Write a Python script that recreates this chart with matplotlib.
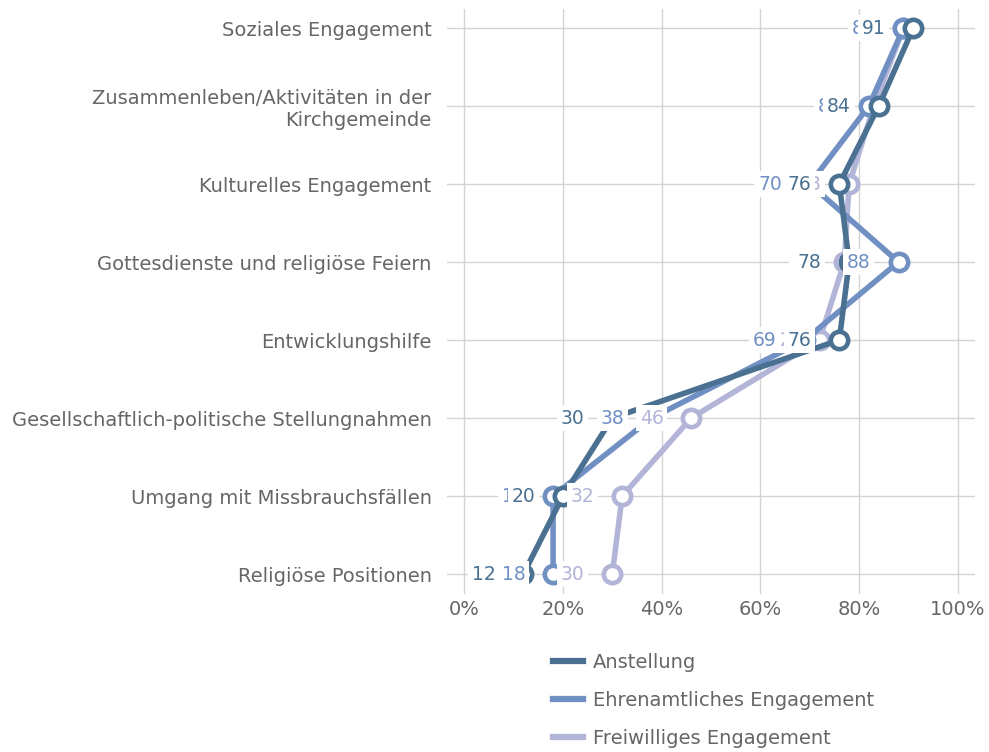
import numpy as np
import matplotlib.pyplot as plt

plt.rcParams['font.family'] = ['DejaVu Sans']

categories = ["Soziales Engagement",
              "Zusammenleben/Aktivitäten in der\nKirchgemeinde",
              "Kulturelles Engagement",
              "Gottesdienste und religiöse Feiern",
              "Entwicklungshilfe",
              "Gesellschaftlich-politische Stellungnahmen",
              "Umgang mit Missbrauchsfällen",
              "Religiöse Positionen"]

anstellung = [91, 84, 76, 78, 76, 30, 20, 12]
ehrenamt = [89, 82, 70, 88, 69, 38, 18, 18]
freiwillig = [89, 83, 78, 77, 72, 46, 32, 30]

series = [("Anstellung", anstellung, "#4a7191"),
          ("Ehrenamtliches Engagement", ehrenamt, "#7090c4"),
          ("Freiwilliges Engagement", freiwillig, "#b2b4d8")]

text_col = "#666666"
fs = 14

fig = plt.figure(figsize=(9.89, 7.52), dpi=100)
ax = fig.add_axes([447 / 989, 1 - 593.5 / 752, 528 / 989, 585 / 752])

y = np.arange(len(categories))

# lines, last series at the bottom
for k in reversed(range(len(series))):
    name, vals, col = series[k]
    ax.plot(vals, y, color=col, lw=4, marker='o', ms=12.5, mfc='white',
            mec=col, mew=3.3, zorder=3 + (3 - k), label=name)

# value labels on top of the lines
for k in reversed(range(len(series))):
    name, vals, col = series[k]
    for v, yy in zip(vals, y):
        ax.annotate(str(v), (v, yy), xytext=(-20, 0), textcoords='offset points',
                    ha='right', va='center', fontsize=13.5, color=col,
                    bbox=dict(boxstyle='square,pad=0.2', fc='white', ec='none'),
                    zorder=10 + (3 - k))

ax.set_xlim(-3.5, 103.5)
ax.set_ylim(len(categories) - 1 + 0.25, -0.25)
ax.set_xticks([0, 20, 40, 60, 80, 100])
ax.set_xticklabels([f"{t}%" for t in [0, 20, 40, 60, 80, 100]])
ax.set_yticks(y)
ax.set_yticklabels(categories, ha='right', multialignment='right')
ax.tick_params(length=0, labelsize=fs, colors=text_col)
ax.tick_params(axis='y', pad=11)
ax.tick_params(axis='x', pad=5)
ax.grid(True, color='#d4d4d4', lw=1)
ax.set_axisbelow(True)
for s in ax.spines.values():
    s.set_visible(False)

handles, labels = ax.get_legend_handles_labels()
order = [labels.index(s[0]) for s in series]
leg = fig.legend([handles[i] for i in order], [labels[i] for i in order],
                 loc='upper left', bbox_to_anchor=(553 / 989, 1 - 653 / 752),
                 frameon=False, fontsize=fs, handlelength=1.55, labelspacing=0.97,
                 handletextpad=0.5, borderpad=0, borderaxespad=0)
for h in leg.legend_handles:
    h.set_marker('')
    h.set_linewidth(4.5)
for t in leg.get_texts():
    t.set_color(text_col)

fig.savefig("out.png", dpi=100)
